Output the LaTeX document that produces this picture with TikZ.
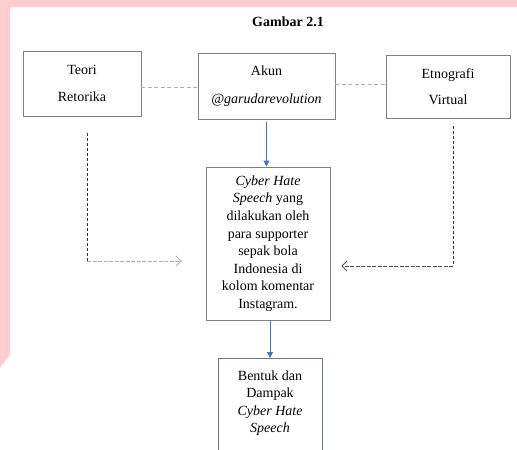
\documentclass[tikz,border=0pt]{standalone}
\usepackage{fontspec}
\setmainfont{Liberation Serif}
\usetikzlibrary{arrows.meta,calc}
\definecolor{pinkband}{RGB}{255,204,208}
\definecolor{boxgray}{RGB}{128,128,128}
\definecolor{linegray}{RGB}{175,175,175}
\definecolor{arrowblue}{RGB}{68,114,196}
\definecolor{bluegray}{RGB}{100,120,150}
\begin{document}
\begin{tikzpicture}[x=1pt,y=-1pt,
  txt/.style={font=\fontsize{14}{17.6}\selectfont},
  topbox/.style={draw=boxgray,line width=0.9pt,txt,align=center,inner sep=0pt},
  midbox/.style={draw=boxgray,line width=0.9pt,txt,align=center,inner sep=0pt},
  bluearrow/.style={draw=arrowblue,line width=0.9pt,-{Triangle[length=6pt,width=6pt]}},
  graydash/.style={draw=linegray,line width=0.8pt,dash pattern=on 4pt off 2.5pt},
  darkdash/.style={draw=black!80,line width=0.8pt,dash pattern=on 3pt off 2pt},
  openarrow/.style={draw=linegray,line width=0.8pt,dash pattern=on 4pt off 1.5pt,-{Straight Barb[length=5pt,width=10pt]}}]
\useasboundingbox (0,0) rectangle (517,450);
\clip (0,0) rectangle (517,450);
\fill[white] (0,0) rectangle (517,450);
% pink frame
\fill[pinkband] (0,0) -- (517,0) -- (517,7) -- (10,7) -- (10,355) -- (0,368) -- cycle;

\node[font=\fontsize{14}{16}\selectfont\bfseries] (title) at (288,22) {Gambar 2.1};

\node[topbox,minimum width=118pt,minimum height=65pt] (teori) at (82,83.5)
  {Teori\\[9pt]Retorika};
\node[topbox,minimum width=137pt,minimum height=66pt] (akun) at (266.5,86)
  {Akun\\[10pt]\textit{@garudarevolution}};
\node[topbox,minimum width=124pt,minimum height=63pt] (etno) at (448,86.5)
  {Etnografi\\[9pt]Virtual};

\node[midbox,minimum width=124pt,minimum height=153pt] (cyber) at (268,243.5)
  {\textit{Cyber Hate}\\\textit{Speech} yang\\dilakukan oleh\\para supporter\\sepak bola\\Indonesia di\\kolom komentar\\Instagram.};

\node[draw=bluegray,line width=0.9pt,txt,align=center,inner sep=0pt,
  minimum width=104pt,minimum height=104pt,anchor=north] (bentuk) at (270,358)
  {Bentuk dan\\Dampak\\\textit{Cyber Hate}\\\textit{Speech}\\\mbox{}};

% dashed links between top boxes
\draw[graydash] (teori.east |- 0,87) -- (akun.west |- 0,87);
\draw[graydash] (akun.east |- 0,84) -- (etno.west |- 0,84);

% blue arrows
\draw[bluearrow] ($(akun.south)+(0,3)$) -- (akun.south |- cyber.north);
\draw[bluearrow] (cyber.south -| bentuk.north) -- (bentuk.north);

% left dashed connector
\coordinate (l1) at (87,133);
\coordinate (l2) at (87,261);
\coordinate (l3) at ($(cyber.west |- l2)+(-24,0)$);
\draw[darkdash] (l1) -- (l2);
\draw[openarrow] (l2) -- (l3);

% right dashed connector
\coordinate (r1) at (453,126);
\coordinate (r2) at (453,266);
\coordinate (r3) at ($(cyber.east |- r2)+(11,0)$);
\draw[darkdash] (r1) -- (r2);
\draw[openarrow,draw=black!70] (r2) -- (r3);
\end{tikzpicture}
\end{document}
